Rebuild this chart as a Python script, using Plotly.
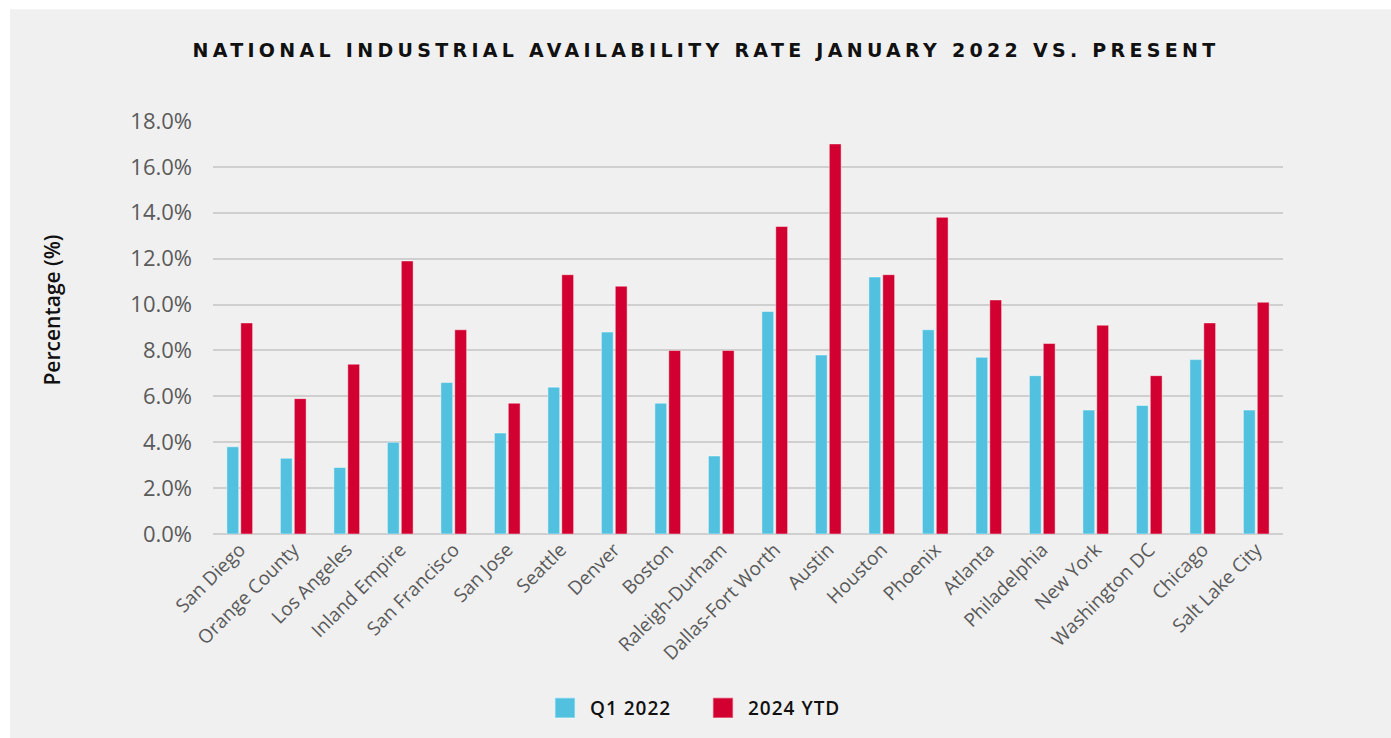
import plotly.graph_objects as go

cities = ["San Diego", "Orange County", "Los Angeles", "Inland Empire", "San Francisco",
          "San Jose", "Seattle", "Denver", "Boston", "Raleigh-Durham", "Dallas-Fort Worth",
          "Austin", "Houston", "Phoenix", "Atlanta", "Philadelphia", "New York",
          "Washington DC", "Chicago", "Salt Lake City"]
q1_2022 = [3.8, 3.3, 2.9, 4.0, 6.6, 4.4, 6.4, 8.8, 5.7, 3.4, 9.7,
           7.8, 11.2, 8.9, 7.7, 6.9, 5.4, 5.6, 7.6, 5.4]
ytd_2024 = [9.2, 5.9, 7.4, 11.9, 8.9, 5.7, 11.3, 10.8, 8.0, 8.0, 13.4,
            17.0, 11.3, 13.8, 10.2, 8.3, 9.1, 6.9, 9.2, 10.1]
y_ticks = [0, 2, 4, 6, 8, 10, 12, 14, 16, 18]
y_tick_labels = ["0.0%", "2.0%", "4.0%", "6.0%", "8.0%", "10.0%", "12.0%", "14.0%", "16.0%", "18.0%"]

W, H = 1391, 738
L, R, T, B = 213, 1283, 121, 535
pw, ph = R - L, B - T

fig = go.Figure()
fig.add_trace(go.Bar(name="Q1 2022", x=cities, y=q1_2022,
                     marker=dict(color="#52c1df", line=dict(color="rgba(255,255,255,0.45)", width=1))))
fig.add_trace(go.Bar(name="2024 YTD", x=cities, y=ytd_2024,
                     marker=dict(color="#d10031", line=dict(color="rgba(255,255,255,0.45)", width=1))))

fig.update_layout(
    width=W, height=H,
    margin=dict(l=L, r=W - R, t=T, b=H - B, pad=0),
    paper_bgcolor="white",
    plot_bgcolor="rgba(0,0,0,0)",
    barmode="group", bargap=0.48, bargroupgap=0.15,
    font=dict(family="Open Sans", color="#555555"),
    title=dict(text="NATIONAL INDUSTRIAL AVAILABILITY RATE JANUARY 2022 VS. PRESENT",
               x=706 / W, xref="container", xanchor="center",
               y=1 - 50 / H, yref="container", yanchor="middle",
               font=dict(family="DejaVu Sans", size=19, color="#111111", weight="bold")),
    showlegend=True,
    legend=dict(orientation="h", x=(540 - L) / pw, xanchor="left",
                y=-(708 - B) / ph, yanchor="middle",
                font=dict(family="Open Sans", size=19, color="#111111", weight=600),
                itemwidth=40, entrywidth=103, entrywidthmode="pixels",
                traceorder="normal", bgcolor="rgba(0,0,0,0)"),
    shapes=[dict(type="rect", xref="paper", yref="paper", layer="below",
                 x0=(10 - L) / pw, x1=(W + 5 - L) / pw,
                 y0=-(H + 5 - B) / ph, y1=(B - 9) / ph,
                 fillcolor="#f0f0f0", line=dict(width=0))],
    annotations=[dict(text="Percentage (%)", xref="paper", yref="paper",
                      x=(52 - L) / pw, y=(B - 311) / ph, xanchor="center", yanchor="middle",
                      textangle=-90, showarrow=False,
                      font=dict(family="Open Sans", size=21, color="#111111", weight=600))],
)
fig.update_xaxes(tickangle=-45, tickfont=dict(size=19, color="#5a5a5a"),
                 showgrid=False, showline=False, ticks="")
fig.update_yaxes(range=[0, 18], tickvals=y_ticks, ticktext=y_tick_labels,
                 tickfont=dict(size=22, color="#5a5a5a"),
                 showgrid=True, gridcolor="#cfcfcf", gridwidth=1.5,
                 zeroline=True, zerolinecolor="#cfcfcf", zerolinewidth=1.5,
                 ticklabelstandoff=20, ticks="")

post = """
var t = document.querySelector('.gtitle');
if (t) {
  var w = t.getComputedTextLength();
  var n = t.textContent.length;
  var sp = (1027 - w) / n;
  t.style.letterSpacing = sp + 'px';
}
document.querySelectorAll('.legendpoints path').forEach(function(p){
  var tr = p.getAttribute('transform') || '';
  p.setAttribute('transform', tr + ' scale(1.7)');
});
document.querySelectorAll('.legendtext').forEach(function(tx){
  tx.style.letterSpacing = '1px';
});
"""
fig.write_html("out.html", post_script=post)
